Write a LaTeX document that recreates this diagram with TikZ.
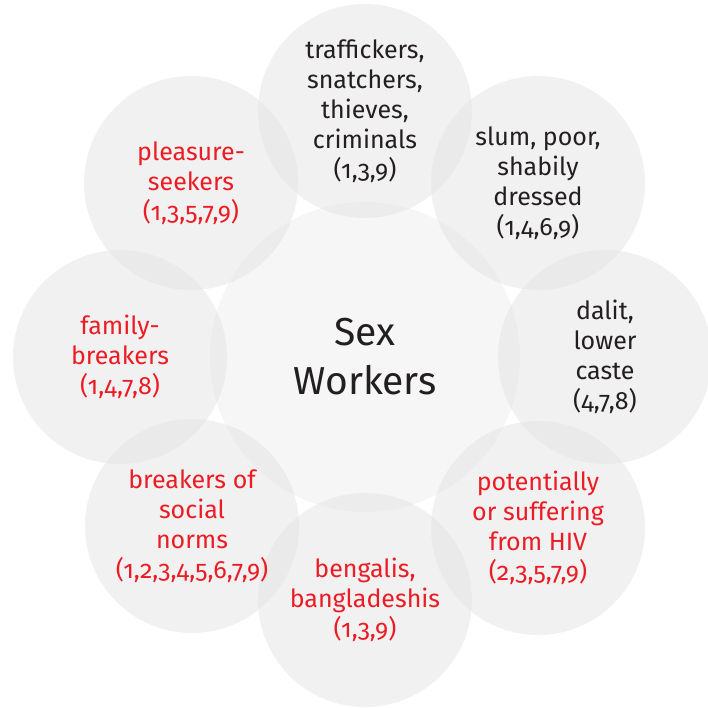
\documentclass[tikz,border=0pt]{standalone}
\usepackage{fontspec}
\setmainfont{Fira Sans}[Numbers=OldStyle]
\definecolor{ctxt}{HTML}{231F20}
\definecolor{cred}{HTML}{EC1C24}
\definecolor{cfill}{gray}{0.89}
\definecolor{cmid}{gray}{0.965}
\begin{document}
\begin{tikzpicture}[x=1pt,y=-1pt,
  outer/.style={circle,minimum size=214pt,inner sep=0pt,fill=cfill,fill opacity=0.5,text opacity=1,align=center,font=\fontsize{25}{30}\selectfont},
  blk/.style={text=ctxt},
  rd/.style={text=cred},
  mid/.style={circle,minimum size=310pt,inner sep=0pt,fill=cmid,align=center,text=ctxt,font=\fontsize{39}{49}\selectfont}]
\useasboundingbox (0,0) rectangle (707,708);
\node[mid] (c) at (365,357) {Sex\\Workers};
\node[outer,blk] (n1) at (365,111) {traffickers,\\snatchers,\\thieves,\\criminals\\(1,3,9)};
\node[outer,blk] (n2) at (538,183) {slum, poor,\\shabily\\dressed\\(1,4,6,9)};
\node[outer,blk] (n3) at (605,357) {dalit,\\lower\\caste\\(4,7,8)};
\node[outer,rd] (n4) at (538,528) {potentially\\or suffering\\from HIV\\(2,3,5,7,9)};
\node[outer,rd] (n5) at (365,600) {bengalis,\\bangladeshis\\(1,3,9)};
\node[outer,rd] (n6) at (192,526) {breakers of\\social\\norms\\(1,2,3,4,5,6,7,9)};
\node[outer,rd] (n7) at (120,357) {family-\\breakers\\(1,4,7,8)};
\node[outer,rd] (n8) at (191,183) {pleasure-\\seekers\\(1,3,5,7,9)};
\end{tikzpicture}
\end{document}
